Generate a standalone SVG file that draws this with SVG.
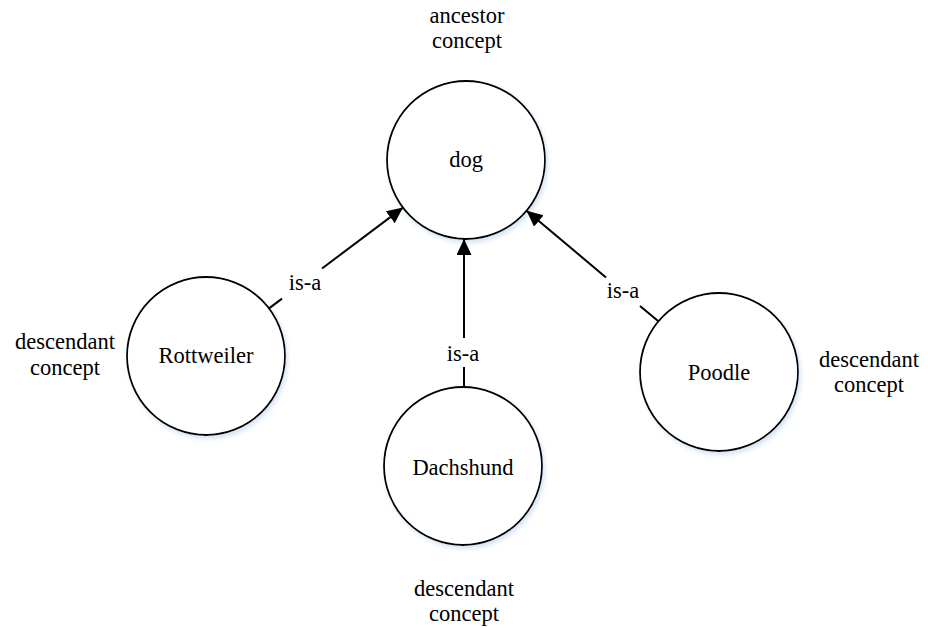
<svg xmlns="http://www.w3.org/2000/svg" width="928" height="628" viewBox="0 0 928 628">
  <style>
    .node { fill: #ffffff; stroke: #000000; stroke-width: 1.8; filter: url(#soft); }
    .lbl { font-family: "Liberation Serif", "Times New Roman", serif; font-size: 22.5px; fill: #000000; text-anchor: middle; }
    .edge { stroke: #000000; stroke-width: 2; fill: none; }
    .arrow { marker-end: url(#head); }
  </style>
  <defs>
    <filter id="soft" x="-20%" y="-20%" width="150%" height="150%">
      <feDropShadow dx="2" dy="3" stdDeviation="2.2" flood-color="#8fb3dc" flood-opacity="0.35"/>
    </filter>
    <marker id="head" markerUnits="userSpaceOnUse" markerWidth="18" markerHeight="16" refX="16" refY="7.5" orient="auto">
      <path d="M0,0 L16,7.5 L0,15 Z" fill="#000000"/>
    </marker>
  </defs>

  <rect width="928" height="628" fill="#ffffff"/>

  <!-- captions outside the circles -->
  <g id="captions">
    <text class="lbl" x="467" y="23">ancestor</text>
    <text class="lbl" x="467" y="48">concept</text>
    <text class="lbl" x="65" y="349">descendant</text>
    <text class="lbl" x="65" y="375">concept</text>
    <text class="lbl" x="869" y="367">descendant</text>
    <text class="lbl" x="869" y="392">concept</text>
    <text class="lbl" x="464" y="596">descendant</text>
    <text class="lbl" x="464" y="621">concept</text>
  </g>

  <g id="dog">
    <circle class="node" cx="466" cy="160" r="79"/>
    <text class="lbl" x="466" y="167">dog</text>
  </g>

  <g id="rottweiler">
    <circle class="node" cx="206" cy="356" r="79"/>
    <text class="lbl" x="206" y="363">Rottweiler</text>
  </g>

  <g id="dachshund">
    <circle class="node" cx="463" cy="466" r="79"/>
    <text class="lbl" x="463" y="475">Dachshund</text>
  </g>

  <g id="poodle">
    <circle class="node" cx="719" cy="372" r="79"/>
    <text class="lbl" x="719" y="380">Poodle</text>
  </g>

  <!-- is-a connectors, each broken around its label -->
  <g id="connectors">
    <line class="edge" x1="269" y1="308.4" x2="282" y2="298.6"/>
    <line class="edge arrow" x1="322" y1="268.5" x2="403" y2="207.6"/>
    <text class="lbl" x="305" y="290">is-a</text>

    <line class="edge" x1="464" y1="387" x2="464" y2="367"/>
    <line class="edge arrow" x1="464" y1="338" x2="464" y2="239"/>
    <text class="lbl" x="463" y="361">is-a</text>

    <line class="edge" x1="658.4" y1="321.3" x2="640" y2="305.9"/>
    <line class="edge arrow" x1="606" y1="277.4" x2="526.6" y2="210.7"/>
    <text class="lbl" x="623" y="298">is-a</text>
  </g>
</svg>
